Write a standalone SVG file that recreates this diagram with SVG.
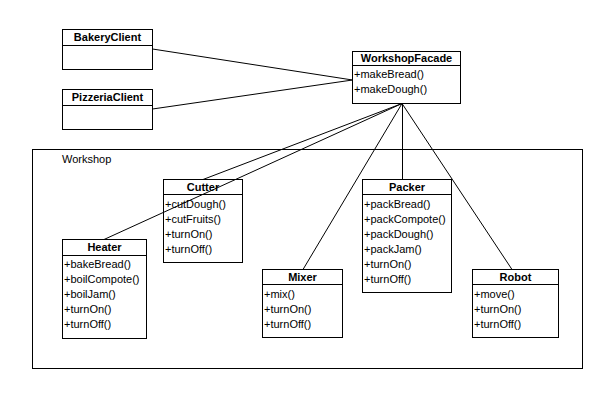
<svg xmlns="http://www.w3.org/2000/svg" width="613" height="400" viewBox="0 0 613 400">
  <style>
    .box { fill: #ffffff; stroke: #000000; stroke-width: 1; }
    .sep { stroke: #000000; stroke-width: 1; }
    .title { font-family: "Liberation Sans", Arial, sans-serif; font-size: 11px; font-weight: bold; text-anchor: middle; fill: #000; }
    .op { font-family: "Liberation Sans", Arial, sans-serif; font-size: 11px; fill: #000; }
    .pkg { font-family: "Liberation Sans", Arial, sans-serif; font-size: 11px; fill: #000; }
    .link { stroke: #000000; stroke-width: 1; fill: none; }
  </style>
  <rect width="613" height="400" fill="#ffffff"/>

  <!-- package frame -->
  <g id="workshop">
    <rect x="32.5" y="149.5" width="550" height="219" fill="none" stroke="#000" stroke-width="1"/>
    <text class="pkg" x="62" y="163">Workshop</text>
  </g>

  <g id="bakeryClient">
    <rect class="box" x="62.5" y="29.5" width="90" height="40"/>
    <line class="sep" x1="62.5" y1="45.5" x2="152.5" y2="45.5"/>
    <text class="title" x="107.5" y="41">BakeryClient</text>
  </g>

  <g id="pizzeriaClient">
    <rect class="box" x="62.5" y="89.5" width="90" height="40"/>
    <line class="sep" x1="62.5" y1="105.5" x2="152.5" y2="105.5"/>
    <text class="title" x="107.5" y="101">PizzeriaClient</text>
  </g>

  <g id="workshopFacade">
    <rect class="box" x="352.5" y="51.5" width="108" height="52"/>
    <line class="sep" x1="352.5" y1="65.5" x2="460.5" y2="65.5"/>
    <text class="title" x="406.5" y="62">WorkshopFacade</text>
    <text class="op" x="354" y="78">+makeBread()</text>
    <text class="op" x="354" y="93">+makeDough()</text>
  </g>

  <g id="cutter">
    <rect class="box" x="163.5" y="179.5" width="79" height="83"/>
    <line class="sep" x1="163.5" y1="194.5" x2="242.5" y2="194.5"/>
    <text class="title" x="203" y="191">Cutter</text>
    <text class="op" x="165" y="208">+cutDough()</text>
    <text class="op" x="165" y="223">+cutFruits()</text>
    <text class="op" x="165" y="238">+turnOn()</text>
    <text class="op" x="165" y="253">+turnOff()</text>
  </g>

  <g id="packer">
    <rect class="box" x="362.5" y="179.5" width="89" height="113"/>
    <line class="sep" x1="362.5" y1="194.5" x2="451.5" y2="194.5"/>
    <text class="title" x="407" y="191">Packer</text>
    <text class="op" x="364" y="208">+packBread()</text>
    <text class="op" x="364" y="223">+packCompote()</text>
    <text class="op" x="364" y="238">+packDough()</text>
    <text class="op" x="364" y="253">+packJam()</text>
    <text class="op" x="364" y="268">+turnOn()</text>
    <text class="op" x="364" y="283">+turnOff()</text>
  </g>

  <g id="heater">
    <rect class="box" x="62.5" y="239.5" width="84" height="99"/>
    <line class="sep" x1="62.5" y1="255.5" x2="146.5" y2="255.5"/>
    <text class="title" x="104.5" y="251">Heater</text>
    <text class="op" x="64" y="268">+bakeBread()</text>
    <text class="op" x="64" y="283">+boilCompote()</text>
    <text class="op" x="64" y="298">+boilJam()</text>
    <text class="op" x="64" y="313">+turnOn()</text>
    <text class="op" x="64" y="328">+turnOff()</text>
  </g>

  <g id="mixer">
    <rect class="box" x="262.5" y="269.5" width="80" height="68"/>
    <line class="sep" x1="262.5" y1="284.5" x2="342.5" y2="284.5"/>
    <text class="title" x="302.5" y="281">Mixer</text>
    <text class="op" x="264" y="298">+mix()</text>
    <text class="op" x="264" y="313">+turnOn()</text>
    <text class="op" x="264" y="328">+turnOff()</text>
  </g>

  <g id="robot">
    <rect class="box" x="472.5" y="269.5" width="86" height="68"/>
    <line class="sep" x1="472.5" y1="284.5" x2="558.5" y2="284.5"/>
    <text class="title" x="515.5" y="281">Robot</text>
    <text class="op" x="474" y="298">+move()</text>
    <text class="op" x="474" y="313">+turnOn()</text>
    <text class="op" x="474" y="328">+turnOff()</text>
  </g>

  <!-- associations -->
  <g id="connectors">
    <line class="link" x1="152.5" y1="49" x2="352.5" y2="80"/>
    <line class="link" x1="152.5" y1="109" x2="352.5" y2="80"/>
    <line class="link" x1="402" y1="103.5" x2="203" y2="179.5"/>
    <line class="link" x1="402" y1="103.5" x2="104" y2="239.5"/>
    <line class="link" x1="402" y1="103.5" x2="303" y2="269.5"/>
    <line class="link" x1="402.5" y1="103.5" x2="402.5" y2="179.5"/>
    <line class="link" x1="402" y1="103.5" x2="512" y2="269.5"/>
  </g>
</svg>
